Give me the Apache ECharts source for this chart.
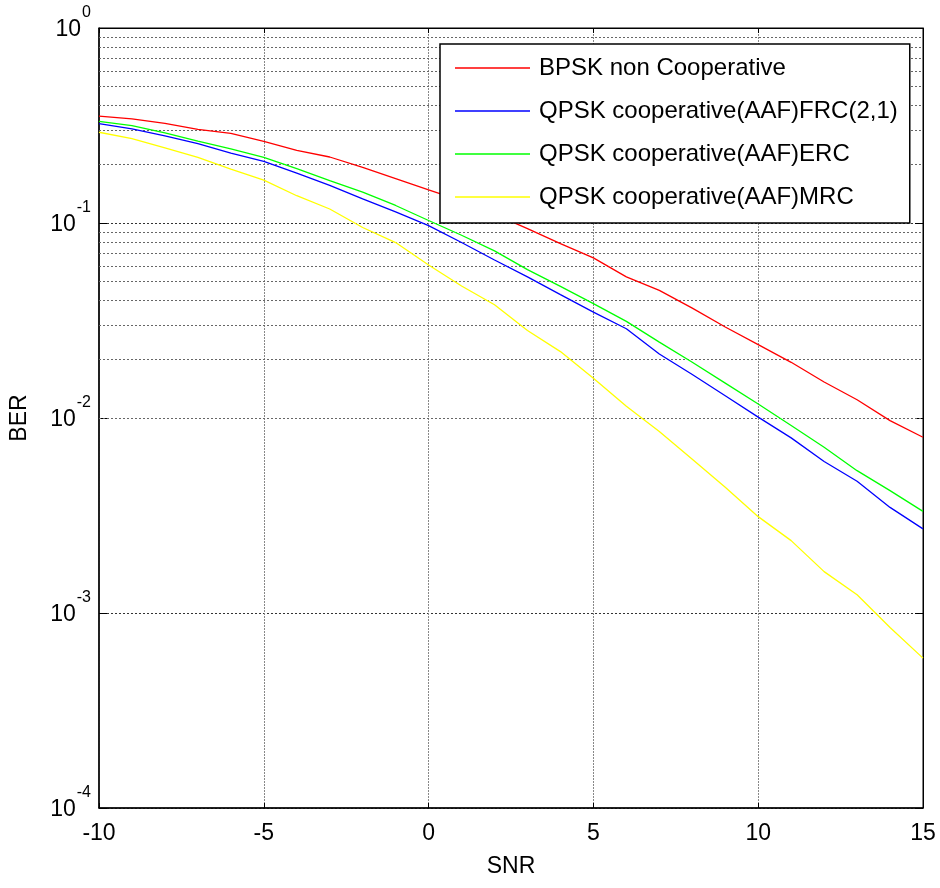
<!DOCTYPE html>
<html>
<head>
<meta charset="utf-8">
<script src="https://cdn.jsdelivr.net/npm/echarts@6/dist/echarts.min.js"></script>
<style>html,body{margin:0;padding:0;background:#fff;}#c{width:940px;height:888px;}</style>
</head>
<body>
<div id="c"></div>
<script>
const snr = [-10,-9,-8,-7,-6,-5,-4,-3,-2,-1,0,1,2,3,4,5,6,7,8,9,10,11,12,13,14,15];
const bpskNonCoop = [0.353,0.342,0.324,0.302,0.288,0.262,0.236,0.218,0.193,0.169,0.148,0.130,0.111,0.0936,0.0784,0.0662,0.0529,0.0451,0.0366,0.0293,0.0238,0.0193,0.0153,0.0124,0.0097,0.00797];
const qpskFRC = [0.323,0.304,0.280,0.255,0.228,0.207,0.180,0.156,0.133,0.114,0.097,0.0794,0.0646,0.0529,0.0429,0.0349,0.0287,0.0213,0.0167,0.0130,0.0101,0.00791,0.00598,0.00474,0.00348,0.00270];
const qpskERC = [0.332,0.316,0.290,0.263,0.240,0.217,0.190,0.165,0.144,0.123,0.103,0.0865,0.0719,0.0577,0.0473,0.0386,0.0313,0.0245,0.0193,0.0151,0.0118,0.00915,0.00708,0.00537,0.00424,0.00332];
const qpskMRC = [0.292,0.271,0.243,0.217,0.189,0.166,0.138,0.118,0.0948,0.0794,0.0609,0.0475,0.0381,0.0281,0.0219,0.0160,0.0115,0.00853,0.00615,0.00441,0.00312,0.00235,0.00163,0.00124,0.000843,0.000587];
const seriesNames = ['BPSK non Cooperative','QPSK cooperative(AAF)FRC(2,1)','QPSK cooperative(AAF)ERC','QPSK cooperative(AAF)MRC'];
const seriesColors = ['#ff0000','#0000ff','#00ff00','#ffff00'];
const decades = [-4,-3,-2,-1,0];
const minorMultipliers = [2,3,4,5,6,7,8,9];

const FONT = 'Liberation Sans, Arial, Helvetica, sans-serif';
const minorLines = [];
decades.slice(0,4).forEach(d => minorMultipliers.forEach(m => minorLines.push({yAxis: m*Math.pow(10,d)})));

const seriesData = [bpskNonCoop, qpskFRC, qpskERC, qpskMRC];
const series = seriesData.map((arr,i) => ({
  name: seriesNames[i], type:'line', symbol:'none', showSymbol:false,
  data: snr.map((x,j)=>[x, arr[j]]),
  lineStyle:{color:seriesColors[i], width:1.3}, itemStyle:{color:seriesColors[i]},
  z: 5, animation:false
}));
series.unshift({
  type:'line', data:[], silent:true, animation:false, z:1,
  markLine:{silent:true, symbol:'none', animation:false, label:{show:false},
    lineStyle:{color:'#666', type:[2,2], width:1}, data: minorLines}
});

const chart = echarts.init(document.getElementById('c'), null, {renderer:'canvas'});
const yLabel = v => '{b|10}{e|' + Math.round(Math.log10(v)) + '}';
chart.setOption({
  animation:false,
  backgroundColor:'#fff',
  grid:{left:98, right:17, top:28, bottom:80, show:true, borderColor:'#000', borderWidth:1},
  legend:{
    orient:'vertical', left:440, top:44, padding:[12,12,14,15], itemGap:19,
    itemWidth:75, itemHeight:1.5, icon:'rect', data: seriesNames,
    backgroundColor:'#fff', borderColor:'#000', borderWidth:1.5, z:10,
    textStyle:{fontFamily:FONT, fontSize:24, color:'#000', padding:[0,0,0,4]}
  },
  xAxis:[{
    type:'value', min:-10, max:15, interval:5, position:'bottom',
    name:'SNR', nameLocation:'middle', nameGap:47,
    nameTextStyle:{fontFamily:FONT, fontSize:23, color:'#000'},
    axisLine:{show:true, onZero:false, lineStyle:{color:'#000', width:1.5}},
    axisTick:{show:true, inside:true, length:5, lineStyle:{color:'#000'}},
    axisLabel:{fontFamily:FONT, fontSize:23, color:'#000', margin:14},
    splitLine:{show:true, lineStyle:{color:'#888', type:[2,1], width:1}}
  },{
    type:'value', min:-10, max:15, interval:5, position:'top',
    axisLine:{show:true, onZero:false, lineStyle:{color:'#000', width:1}},
    axisTick:{show:true, inside:true, length:5, lineStyle:{color:'#000'}},
    axisLabel:{show:false}, splitLine:{show:false}
  }],
  yAxis:[{
    type:'log', logBase:10, min:1e-4, max:1, position:'left',
    name:'BER', nameLocation:'middle', nameGap:68,
    nameTextStyle:{fontFamily:FONT, fontSize:23, color:'#000'},
    axisLine:{show:true, onZero:false, lineStyle:{color:'#000', width:1.5}},
    axisTick:{show:true, inside:true, length:8, lineStyle:{color:'#000'}},
    axisLabel:{fontFamily:FONT, color:'#000', margin:8, formatter:yLabel, padding:[0,0,10,0],
      rich:{b:{fontFamily:FONT, fontSize:23, color:'#000', verticalAlign:'bottom'},
            e:{fontFamily:FONT, fontSize:16, color:'#000', verticalAlign:'bottom', padding:[0,0,20,1]}}},
    splitLine:{show:true, lineStyle:{color:'#333', type:[2,2], width:1}}
  },{
    type:'log', logBase:10, min:1e-4, max:1, position:'right',
    axisLine:{show:true, onZero:false, lineStyle:{color:'#000', width:1}},
    axisTick:{show:true, inside:true, length:8, lineStyle:{color:'#000'}},
    axisLabel:{show:false}, splitLine:{show:false}
  }],
  series: series
});
</script>
</body>
</html>
